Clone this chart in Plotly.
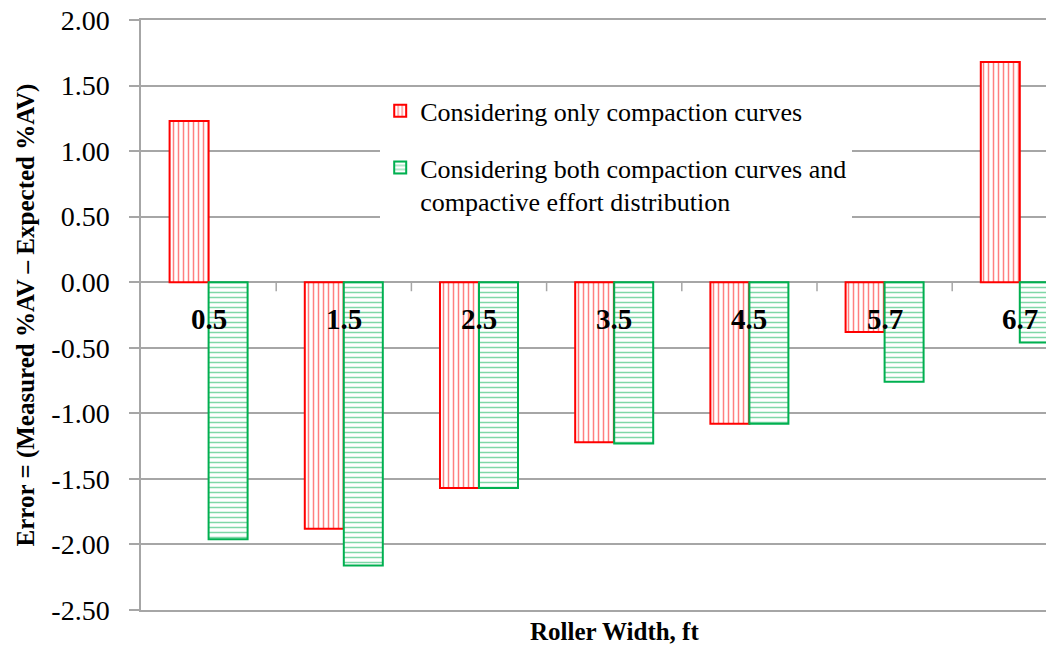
import plotly.graph_objects as go

categories = ["0.5", "1.5", "2.5", "3.5", "4.5", "5.7", "6.7"]
only_curves = [1.23, -1.88, -1.57, -1.22, -1.08, -0.38, 1.68]
curves_and_effort = [-1.96, -2.16, -1.57, -1.23, -1.08, -0.76, -0.46]
name_only = "Considering only compaction curves"
name_both = "Considering both compaction curves and<br>compactive effort distribution"
y_ticks = [2.0, 1.5, 1.0, 0.5, 0.0, -0.5, -1.0, -1.5, -2.0, -2.5]
y_tick_labels = ["2.00", "1.50", "1.00", "0.50", "0.00", "-0.50", "-1.00", "-1.50", "-2.00", "-2.50"]

FONT = "Liberation Serif"
GRID = "#a6a6a6"
RED = "#ff0000"
GREEN = "#00b050"

fig = go.Figure()
fig.add_trace(go.Bar(
    x=categories, y=only_curves, name=name_only, legendgroup="a",
    marker=dict(color="white", line=dict(color=RED, width=2),
                pattern=dict(shape="|", fgcolor=RED, bgcolor="white", size=5, solidity=0.3)),
))
fig.add_trace(go.Bar(
    x=categories, y=curves_and_effort, name=name_both, legendgroup="b",
    marker=dict(color="white", line=dict(color=GREEN, width=2),
                pattern=dict(shape="-", fgcolor=GREEN, bgcolor="white", size=5, solidity=0.3)),
))

# category labels sitting under the zero line (category axis -> use index positions)
for i, c in enumerate(categories):
    fig.add_annotation(x=i, y=0, xref="x", yref="y", text="<b>%s</b>" % c,
                       showarrow=False, yanchor="middle", yshift=-37,
                       font=dict(family=FONT, size=29, color="black"))
# small tick marks on the zero line between categories
for i in range(len(categories) - 1):
    fig.add_shape(type="line", xref="x", yref="y", x0=i + 0.5, x1=i + 0.5,
                  ysizemode="pixel", yanchor=0, y0=0, y1=-9,
                  line=dict(color=GRID, width=1.5))

fig.add_annotation(x=(len(categories) - 1) / 2, xref="x", y=-0.037, yref="paper",
                   text="<b>Roller Width, ft</b>", showarrow=False, yanchor="middle",
                   font=dict(family=FONT, size=25, color="black"))

# page body has an 8px margin: figure is sized to fit the window exactly
fig.update_layout(
    width=1046, height=641,
    margin=dict(l=133, r=0, t=12, b=39, autoexpand=False),
    paper_bgcolor="white", plot_bgcolor="white",
    barmode="group", bargap=0.423, bargroupgap=0,
    font=dict(family=FONT, color="black"),
    legend=dict(x=0.262, y=0.886, xanchor="left", yanchor="top",
                bgcolor="white", valign="top", traceorder="grouped", tracegroupgap=20,
                font=dict(family=FONT, size=26, color="black")),
    xaxis=dict(type="category", range=[-0.5, 6.253], showticklabels=False,
               showgrid=False, showline=True, mirror=True, linecolor=GRID, linewidth=1.5,
               zeroline=False, fixedrange=True, automargin=False),
    yaxis=dict(range=[-2.5, 2.0], tickvals=y_ticks, ticktext=y_tick_labels,
               ticks="outside", ticklen=10, tickcolor=GRID, tickwidth=1.5,
               ticklabelstandoff=14, automargin=False, ticklabeloverflow="allow",
               tickfont=dict(family=FONT, size=28, color="black"),
               showgrid=True, gridcolor=GRID, gridwidth=1.5,
               zeroline=True, zerolinecolor=GRID, zerolinewidth=1.5,
               showline=True, linecolor=GRID, linewidth=1.5,
               title=dict(text="<b>Error = (Measured %AV – Expected %AV)</b>",
                          font=dict(family=FONT, size=25, color="black"), standoff=10)),
)

fig.write_html("out.html")
